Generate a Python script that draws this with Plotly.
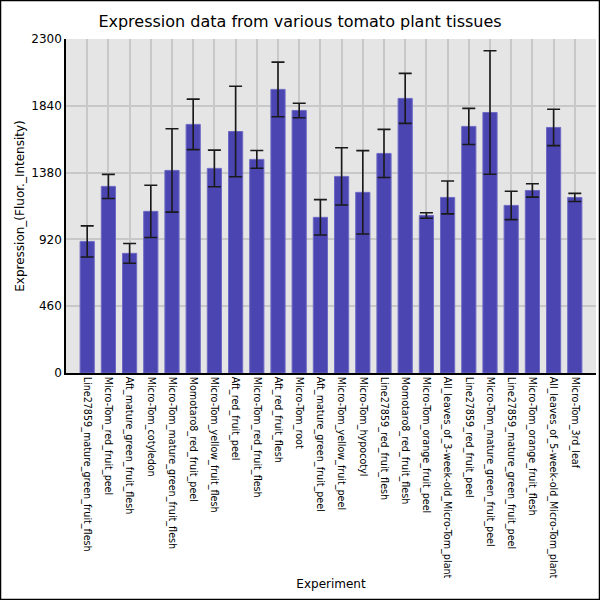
import plotly.graph_objects as go

# tissue names, in plot order
experiments = [
    "Line27859_mature_green_fruit_flesh",
    "Micro-Tom_red_fruit_peel",
    "Aft_mature_green_fruit_flesh",
    "Micro-Tom_cotyledon",
    "Micro-Tom_mature_green_fruit_flesh",
    "Momotaro8_red_fruit_peel",
    "Micro-Tom_yellow_fruit_flesh",
    "Aft_red_fruit_peel",
    "Micro-Tom_red_fruit_flesh",
    "Aft_red_fruit_flesh",
    "Micro-Tom_root",
    "Aft_mature_green_fruit_peel",
    "Micro-Tom_yellow_fruit_peel",
    "Micro-Tom_hypocotyl",
    "Line27859_red_fruit_flesh",
    "Momotaro8_red_fruit_flesh",
    "Micro-Tom_orange_fruit_peel",
    "All_leaves_of_3-week-old_Micro-Tom_plant",
    "Line27859_red_fruit_peel",
    "Micro-Tom_mature_green_fruit_peel",
    "Line27859_mature_green_fruit_peel",
    "Micro-Tom_orange_fruit_flesh",
    "All_leaves_of_5-week-old_Micro-Tom_plant",
    "Micro-Tom_3rd_leaf",
]

# mean expression and error
expression = [906, 1285, 824, 1113, 1395, 1712, 1409, 1663, 1471, 1953, 1808, 1072,
              1354, 1244, 1512, 1891, 1085, 1209, 1698, 1794, 1154, 1257, 1691, 1209]
error = [107, 83, 68, 180, 287, 174, 126, 312, 61, 188, 50, 122,
         197, 287, 166, 172, 19, 113, 124, 425, 98, 46, 125, 28]

y_ticks = [0, 460, 920, 1380, 1840, 2300]

fig = go.Figure(
    go.Bar(
        x=list(range(len(experiments))),
        y=expression,
        width=0.67,
        marker=dict(color="#4b45b2", line=dict(color="#6e6ac4", width=1)),
        error_y=dict(type="data", array=error, visible=True,
                     color="#1a1a1a", thickness=1.6, width=6.5),
        hoverinfo="x+y",
    )
)

fig.update_layout(
    width=600,
    height=600,
    margin=dict(l=66, r=4, t=39, b=227),
    paper_bgcolor="white",
    plot_bgcolor="#e5e5e5",
    font=dict(family="DejaVu Sans", color="black", size=12),
    title=dict(text="Expression data from various tomato plant tissues",
               x=0.5, xanchor="center", y=0.965, yanchor="middle",
               font=dict(size=16)),
    showlegend=False,
)

fig.update_xaxes(
    range=[-1, len(experiments)],
    tickmode="array",
    tickvals=list(range(len(experiments))),
    ticktext=experiments,
    tickangle=90,
    tickfont=dict(size=9.6),
    showgrid=True,
    gridcolor="#c8c8c8",
    gridwidth=1.5,
    showline=True,
    linecolor="black",
    linewidth=1.5,
    ticks="",
    automargin=False,
    title=dict(text="Experiment", font=dict(size=12), standoff=2),
    zeroline=False,
)

fig.update_yaxes(
    range=[0, 2300],
    tickmode="array",
    tickvals=y_ticks,
    ticktext=[str(v) for v in y_ticks],
    showgrid=True,
    gridcolor="#c8c8c8",
    gridwidth=1.5,
    showline=True,
    linecolor="black",
    linewidth=1.5,
    ticks="",
    tickfont=dict(size=12),
    automargin=False,
    title=dict(text="Expression_(Fluor._Intensity)", font=dict(size=12), standoff=4),
    zeroline=False,
)

# thin black frame round the whole picture
fig.add_shape(
    type="rect", xref="paper", yref="paper",
    x0=-65.5 / 530, x1=1 + 3.5 / 530, y0=-226.5 / 334, y1=1 + 38.5 / 334,
    line=dict(color="black", width=1.5), fillcolor="rgba(0,0,0,0)",
    layer="above",
)

# drop the page's default 8px body margin so the figure sits at the corner
fig.write_html("out.html", config={"displayModeBar": False},
               post_script="document.body.style.margin='0';")
